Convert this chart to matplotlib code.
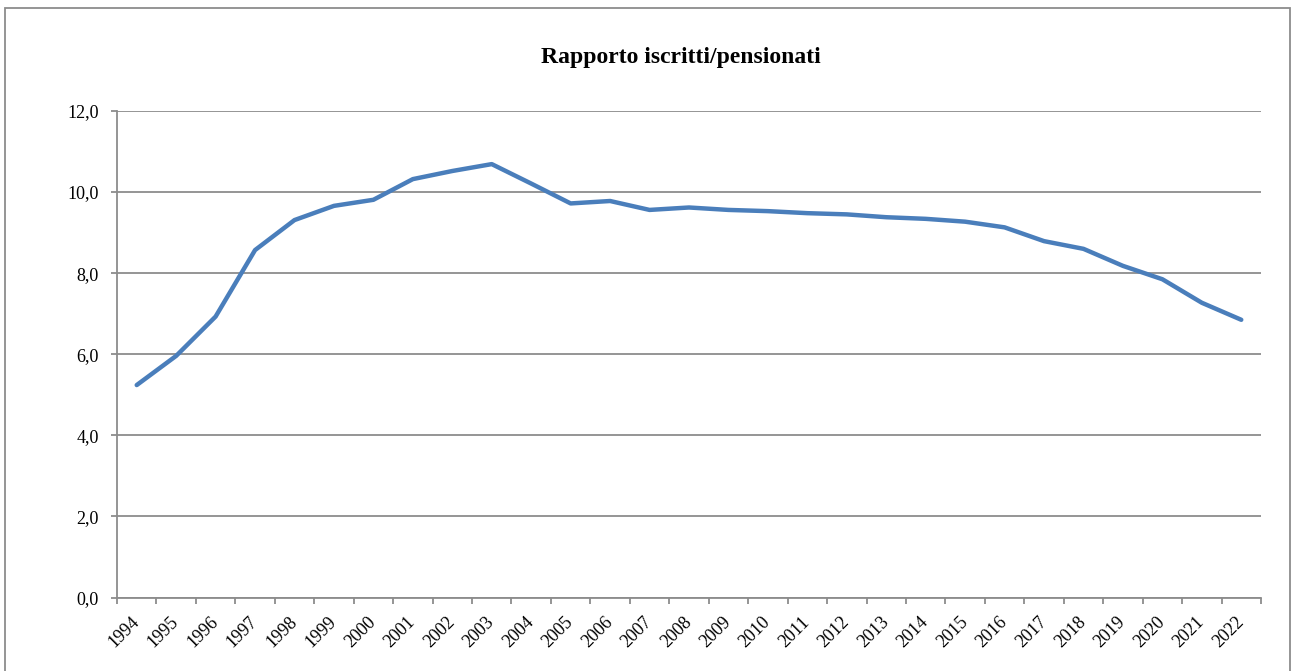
"""Rapporto iscritti/pensionati, 1994-2022."""
import matplotlib
matplotlib.use("Agg")
import matplotlib.pyplot as plt
from matplotlib.patches import Rectangle
from matplotlib.ticker import FixedLocator, FuncFormatter

YEARS = [str(y) for y in range(1994, 2023)]
RATIO = [5.24, 5.96, 6.93, 8.57, 9.31, 9.66, 9.81, 10.32, 10.52, 10.69,
         10.21, 9.72, 9.78, 9.56, 9.62, 9.56, 9.53, 9.48, 9.45, 9.38,
         9.34, 9.27, 9.13, 8.79, 8.60, 8.18, 7.85, 7.27, 6.85]
Y_TICKS = [0, 2, 4, 6, 8, 10, 12]

GRID = "#8c8c8c"
LINE = "#4a7ebb"
FONT = ["Liberation Serif", "DejaVu Serif"]

plt.rcParams["font.family"] = FONT

fig = plt.figure(figsize=(12.91, 6.71), dpi=100)
fig.patch.set_facecolor("white")
ax = fig.add_axes([117 / 1291, 1 - 597.5 / 671, 1144 / 1291, 486.5 / 671])

x = list(range(len(YEARS)))
ax.plot(x, RATIO, color=LINE, lw=3.2, solid_capstyle="round", solid_joinstyle="round", zorder=3)

ax.set_xlim(-0.5, len(YEARS) - 0.5)
ax.set_ylim(0, 12)
ax.set_yticks(Y_TICKS)
ax.yaxis.set_major_formatter(FuncFormatter(lambda v, _: f"{v:.1f}".replace(".", ",")))
ax.grid(axis="y", color=GRID, lw=1.3, zorder=1)

ax.set_xticks(x)
ax.set_xticklabels(YEARS, rotation=45, ha="right", va="center", rotation_mode="anchor")
ax.xaxis.set_minor_locator(FixedLocator([i - 0.5 for i in range(len(YEARS) + 1)]))
ax.tick_params(axis="x", which="major", length=0, pad=16, labelsize=13)
ax.tick_params(axis="x", which="minor", length=4, width=1.3, color=GRID)
ax.tick_params(axis="y", length=4.5, width=1.3, color=GRID, labelsize=13, pad=8.5)

for s in ("top", "right"):
    ax.spines[s].set_visible(False)
for s in ("left", "bottom"):
    ax.spines[s].set_color(GRID)
    ax.spines[s].set_linewidth(1.3)

fig.text(681 / 1291, 1 - 57 / 671, "Rapporto iscritti/pensionati", ha="center", va="center",
         fontsize=17, fontweight="bold")

fig.add_artist(Rectangle((5 / 1291, -0.05), 1285 / 1291, 1.05 - 8 / 671,
                         transform=fig.transFigure, fill=False, edgecolor=GRID, lw=1.3,
                         clip_on=False))

fig.savefig("out.png", dpi=100, facecolor="white")
